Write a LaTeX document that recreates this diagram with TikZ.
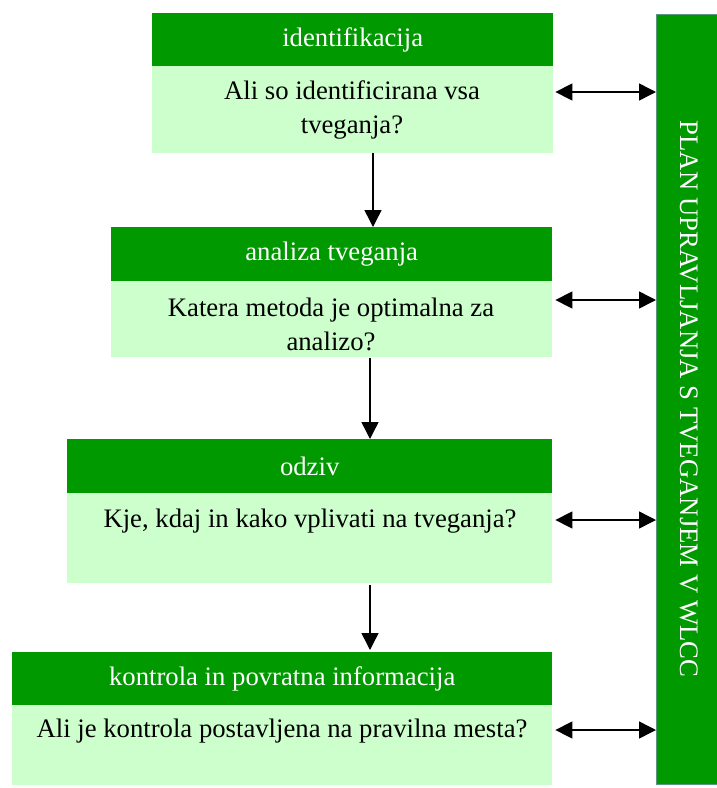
\documentclass[tikz,border=0pt]{standalone}
\usepackage{fontspec}
\setmainfont{Liberation Serif}
\usetikzlibrary{arrows.meta,calc}
\definecolor{headgreen}{RGB}{0,153,0}
\definecolor{bodygreen}{RGB}{204,255,204}
\definecolor{baredge}{RGB}{90,150,130}
\tikzset{
  head/.style={fill=headgreen, draw=none, anchor=north west, inner sep=0pt},
  htext/.style={text=white, font=\fontsize{26.7}{34}\selectfont, inner sep=0pt},
  body/.style={fill=bodygreen, draw=none, anchor=north west, inner sep=0pt},
  btext/.style={font=\fontsize{26.7}{34}\selectfont, align=center, inner sep=0pt},
  flow/.style={line width=1.5pt, -{Triangle[length=17pt,width=17pt]}},
  link/.style={line width=1.5pt, {Triangle[length=17pt,width=17pt]}-{Triangle[length=17pt,width=17pt]}}
}
\begin{document}
\begin{tikzpicture}[x=1pt,y=-1pt]
\useasboundingbox (0,0) rectangle (717,788);

% side bar
\node[fill=headgreen, draw=baredge, line width=1.2pt, anchor=north west,
  minimum width=62pt, minimum height=770pt, inner sep=0pt] (bar) at (656,14) {};
\node[rotate=-90, htext] (bartext) at (689,399) {PLAN UPRAVLJANJA S TVEGANJEM V WLCC};

% step 1
\node[head, minimum width=401pt, minimum height=53pt] (h1) at (152,13) {};
\node[htext] (h1t) at (h1.center) {identifikacija};
\node[body, minimum width=401pt, minimum height=87pt] (b1) at (152,66) {};
\node[btext] (b1t) at (352,110) {Ali so identificirana vsa\\tveganja?};

% step 2
\node[head, minimum width=441pt, minimum height=54pt] (h2) at (111,227) {};
\node[htext] (h2t) at (h2.center) {analiza tveganja};
\node[body, minimum width=441pt, minimum height=76pt] (b2) at (111,281) {};
\node[btext] (b2t) at (331,324) {Katera metoda je optimalna za\\analizo?};

% step 3
\node[head, minimum width=485pt, minimum height=54pt] (h3) at (67,439) {};
\node[htext] (h3t) at (h3.center) {odziv};
\node[body, minimum width=485pt, minimum height=90pt] (b3) at (67,493) {};
\node[btext] (b3t) at (310,521) {Kje, kdaj in kako vplivati na tveganja?};

% step 4
\node[head, minimum width=540pt, minimum height=53pt] (h4) at (12,652) {};
\node[htext] (h4t) at (h4.center) {kontrola in povratna informacija};
\node[body, minimum width=540pt, minimum height=80pt] (b4) at (12,705) {};
\node[btext] (b4t) at (282,731) {Ali je kontrola postavljena na pravilna mesta?};

% flow between steps
\draw[flow] ($(b1.south west)+(221,0)$) -- ($(h2.north west)+(262,0)$);
\draw[flow] ($(b2.south west)+(259,1)$) -- ($(h3.north west)+(303,0)$);
\draw[flow] ($(b3.south west)+(303,2)$) -- ($(h4.north west)+(358,-2)$);

% links to the plan
\draw[link] ($(b1.north east)+(2,26)$) -- (bar.west |- {$(b1.north east)+(2,26)$});
\draw[link] ($(b2.north east)+(3,19)$) -- (bar.west |- {$(b2.north east)+(3,19)$});
\draw[link] ($(b3.north east)+(3,27)$) -- (bar.west |- {$(b3.north east)+(3,27)$});
\draw[link] ($(b4.north east)+(3,25)$) -- (bar.west |- {$(b4.north east)+(3,25)$});
\end{tikzpicture}
\end{document}
